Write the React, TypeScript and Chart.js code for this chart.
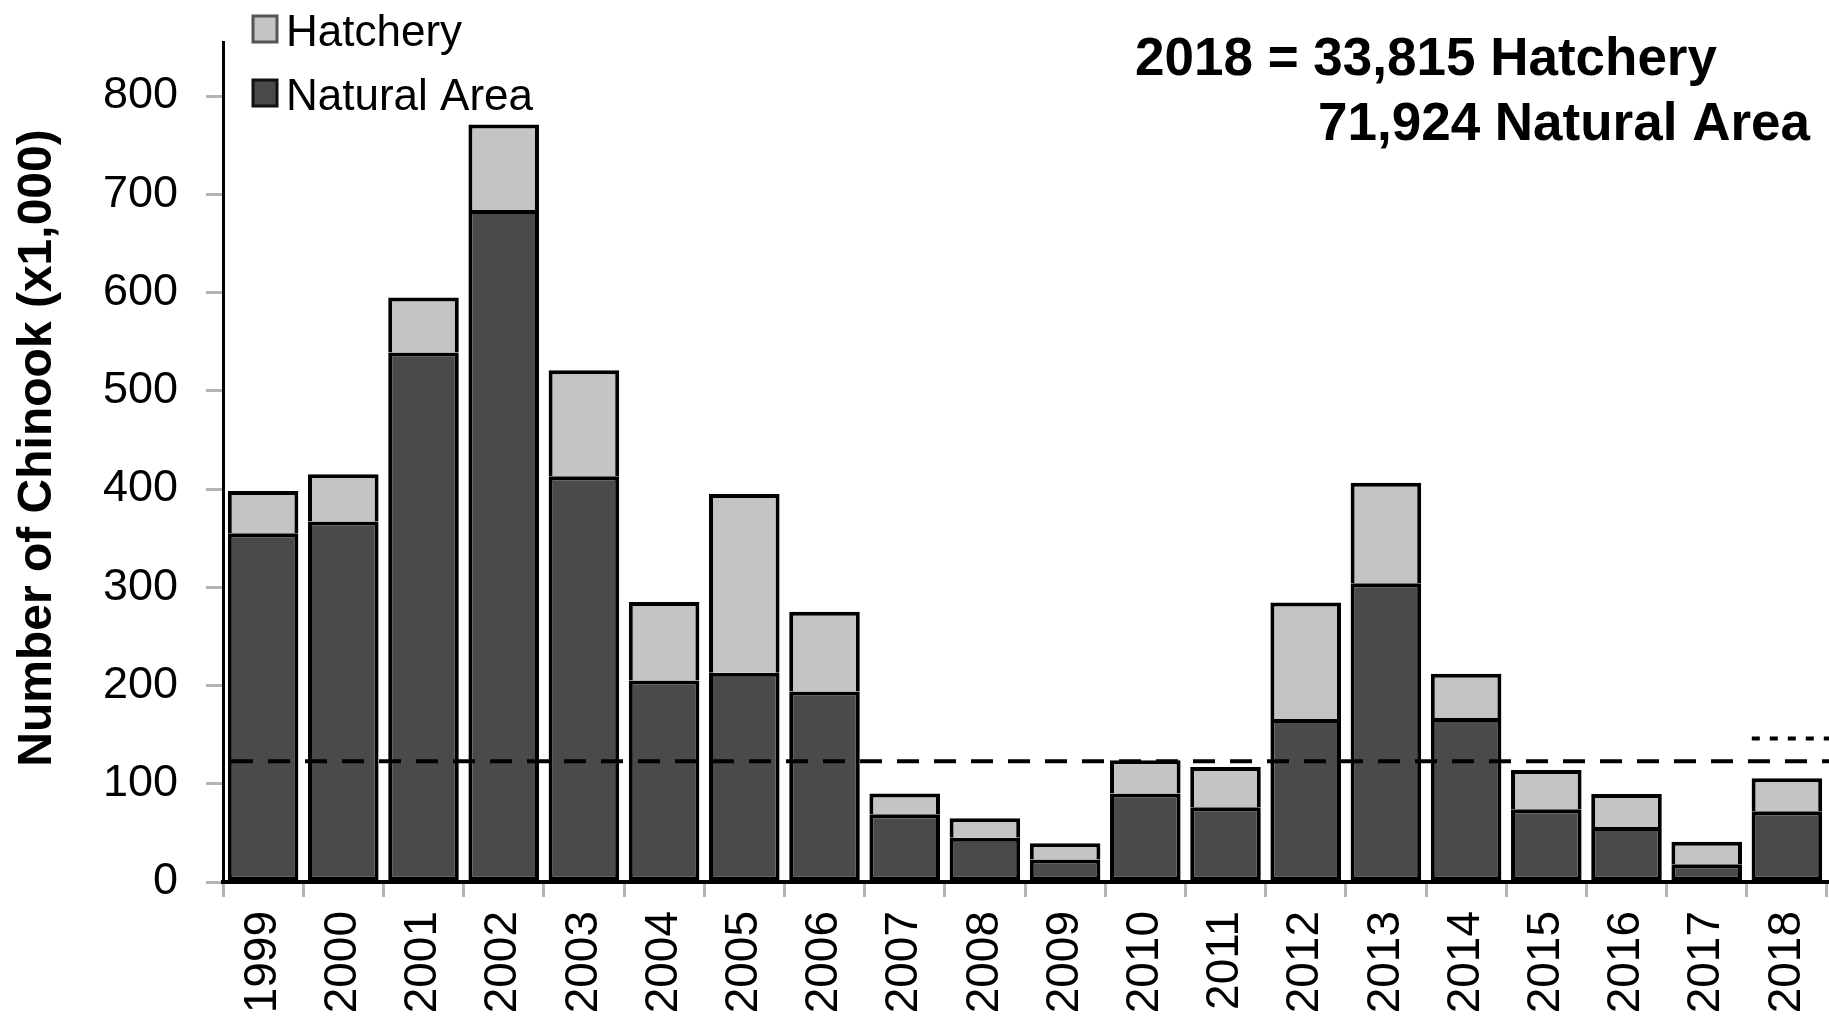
import React, { useEffect, useRef } from 'react';
import { Chart, registerables } from 'chart.js';

Chart.register(...registerables);

// ---- data ----
const years = ['1999', '2000', '2001', '2002', '2003', '2004', '2005', '2006', '2007', '2008', '2009', '2010', '2011', '2012', '2013', '2014', '2015', '2016', '2017', '2018'];
const naturalArea = [355, 367, 539, 684, 413, 205, 213, 194, 69, 45, 23, 90, 76, 166, 304, 167, 74, 56, 18, 71.9];
const hatchery = [43, 48, 56, 87, 108, 80, 182, 81, 21, 20, 16.5, 34, 41, 118.5, 102.5, 45, 40, 33.5, 23, 33.8];
const yTickValues = [0, 100, 200, 300, 400, 500, 600, 700, 800];
const dashedGoal = 123;
const dottedGoal = 146;
const dottedFromYear = '2018';
const legendLabels = ['Hatchery', 'Natural Area'];
const noteLines = ['2018 = 33,815 Hatchery', '71,924 Natural Area'];
const yTitle = 'Number of Chinook (x1,000)';

const FONT = '"Liberation Sans", Arial, Helvetica, sans-serif';
const HATCH_COLOR = '#c4c4c4';
const NAT_COLOR = '#4a4a4a';

const overlayPlugin = {
  id: 'overlay',
  afterDatasetsDraw(chart: any) {
    const { ctx, chartArea } = chart;
    const xs = chart.scales.x;
    const ys = chart.scales.y;
    ctx.save();
    // dashed goal line
    const yd = ys.getPixelForValue(dashedGoal);
    ctx.strokeStyle = '#000';
    ctx.lineWidth = 4;
    ctx.setLineDash([22, 15]);
    ctx.beginPath();
    ctx.moveTo(chartArea.left + 8, yd);
    ctx.lineTo(chartArea.right + 2, yd);
    ctx.stroke();
    // dotted goal segment
    const idx = years.indexOf(dottedFromYear);
    const catW = (chartArea.right - chartArea.left) / years.length;
    const xStart = xs.getPixelForValue(idx) - catW / 2 + 5;
    const yt = ys.getPixelForValue(dottedGoal);
    ctx.setLineDash([8, 10]);
    ctx.beginPath();
    ctx.moveTo(xStart, yt);
    ctx.lineTo(chart.width, yt);
    ctx.stroke();
    ctx.restore();
  },
  afterDraw(chart: any) {
    const { ctx } = chart;
    ctx.save();
    // legend
    const boxes = [
      { fill: HATCH_COLOR, stroke: '#555', y: 16 },
      { fill: NAT_COLOR, stroke: '#111', y: 80 },
    ];
    ctx.font = `44px ${FONT}`;
    ctx.textBaseline = 'alphabetic';
    ctx.textAlign = 'left';
    boxes.forEach((b, i) => {
      ctx.fillStyle = b.fill;
      ctx.fillRect(253, b.y, 24, 26);
      ctx.strokeStyle = b.stroke;
      ctx.lineWidth = 3;
      ctx.strokeRect(253, b.y, 24, 26);
      ctx.fillStyle = '#000';
      ctx.fillText(legendLabels[i], 286, b.y + 30);
    });
    // note
    ctx.font = `bold 53px ${FONT}`;
    ctx.fillStyle = '#000';
    ctx.fillText(noteLines[0], 1135, 75);
    ctx.fillText(noteLines[1], 1318, 140);
    // y-axis title
    ctx.translate(38, 448);
    ctx.rotate(-Math.PI / 2);
    ctx.font = `bold 48px ${FONT}`;
    ctx.textAlign = 'center';
    ctx.textBaseline = 'middle';
    ctx.fillText(yTitle, 0, 0);
    ctx.restore();
  },
};

export default function App() {
  const canvasRef = useRef<HTMLCanvasElement | null>(null);

  useEffect(() => {
    document.body.style.margin = '0';
    const canvas = canvasRef.current;
    if (!canvas) return;
    const chart = new Chart(canvas, {
      type: 'bar',
      data: {
        labels: years,
        datasets: [
          {
            label: legendLabels[1],
            data: naturalArea,
            backgroundColor: NAT_COLOR,
            borderColor: '#000',
            borderWidth: 4,
            borderSkipped: false,
            barPercentage: 0.88,
            categoryPercentage: 1,
          },
          {
            label: legendLabels[0],
            data: hatchery,
            backgroundColor: HATCH_COLOR,
            borderColor: '#000',
            borderWidth: 4,
            borderSkipped: 'start',
            barPercentage: 0.88,
            categoryPercentage: 1,
          },
        ],
      },
      options: {
        animation: false,
        responsive: true,
        maintainAspectRatio: false,
        devicePixelRatio: 1,
        layout: { padding: { top: 42, right: 2, left: 0, bottom: 0 } },
        plugins: {
          legend: { display: false },
          tooltip: { enabled: false },
          title: { display: false },
        },
        scales: {
          x: {
            stacked: true,
            grid: {
              display: true,
              drawOnChartArea: false,
              drawTicks: true,
              tickLength: 15,
              color: '#b4b4b4',
              lineWidth: 3,
              offset: true,
            },
            border: { display: true, color: '#000', width: 4 },
            ticks: {
              minRotation: 90,
              maxRotation: 90,
              padding: 14,
              color: '#000',
              font: { family: FONT, size: 46 },
              autoSkip: false,
            },
            afterFit: (scale: any) => {
              scale.height = 139;
              scale.paddingLeft = 0;
              scale.paddingRight = 0;
            },
          },
          y: {
            stacked: true,
            min: 0,
            max: 855,
            afterBuildTicks: (scale: any) => {
              scale.ticks = yTickValues.map((v) => ({ value: v }));
            },
            grid: {
              display: true,
              drawOnChartArea: false,
              drawTicks: true,
              tickLength: 17,
              color: '#b4b4b4',
              lineWidth: 3,
            },
            border: { display: true, color: '#000', width: 3 },
            ticks: {
              padding: 28,
              color: '#000',
              font: { family: FONT, size: 45 },
              callback: (v: any) => String(v),
            },
            title: { display: false },
            afterFit: (scale: any) => {
              scale.width = 223;
              scale.paddingTop = 0;
              scale.paddingBottom = 0;
            },
          },
        },
      },
      plugins: [overlayPlugin],
    });
    return () => chart.destroy();
  }, []);

  return (
    <div style={{ position: 'relative', width: '1829px', height: '1021px' }}>
      <canvas ref={canvasRef} />
    </div>
  );
}
